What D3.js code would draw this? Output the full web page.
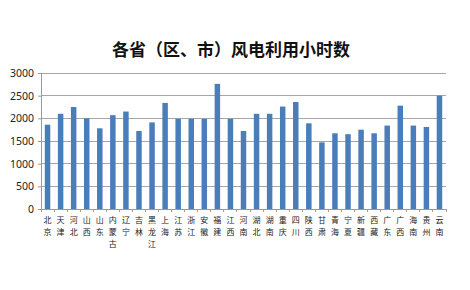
<!DOCTYPE html>
<html><head><meta charset="utf-8">
<script src="https://cdn.jsdelivr.net/npm/d3@7"></script>
<style>body{margin:0;background:#fff}svg{display:block}</style>
</head><body>
<svg id="c" width="470" height="290"></svg>
<script>
const categories = ["北京","天津","河北","山西","山东","内蒙古","辽宁","吉林","黑龙江","上海","江苏","浙江","安徽","福建","江西","河南","湖北","湖南","重庆","四川","陕西","甘肃","青海","宁夏","新疆","西藏","广东","广西","海南","贵州","云南"];
const hours = [1860,2100,2250,2000,1780,2070,2150,1720,1910,2340,1990,1990,1990,2760,1990,1720,2100,2100,2260,2360,1890,1470,1670,1650,1750,1670,1840,2280,1840,1810,2500];
const yTicks = [0,500,1000,1500,2000,2500,3000];
const title = "各省（区、市）风电利用小时数";

const svg = d3.select("#c");
const m = {l:41, r:24, t:73, b:81};
const W = 470, H = 290;
const x = d3.scaleBand().domain(categories).range([m.l, W - m.r]).paddingInner(0.58).paddingOuter(0.29);
const y = d3.scaleLinear().domain([0,3000]).range([H - m.b, m.t]);

svg.append("text").attr("x", 231).attr("y", 56).attr("text-anchor","middle")
  .attr("font-family","'Noto Sans CJK SC', sans-serif").attr("font-size",17).attr("font-weight",600)
  .attr("fill","#111").text(title);

// grid
svg.append("g").selectAll("line").data(yTicks.filter(d=>d>0)).join("line")
  .attr("x1", m.l).attr("x2", W - m.r).attr("y1", d=>y(d)).attr("y2", d=>y(d))
  .attr("stroke","#a6a6a6").attr("stroke-width",1).attr("shape-rendering","crispEdges");

// y axis
const ya = svg.append("g").attr("transform",`translate(${m.l},0)`)
  .call(d3.axisLeft(y).tickValues(yTicks).tickFormat(d3.format("d")).tickSize(3).tickPadding(4));
ya.select(".domain").attr("stroke","#999");
ya.selectAll(".tick line").attr("stroke","#999");
ya.selectAll("text").attr("font-family","'Noto Sans', sans-serif").attr("font-size",10.5).attr("fill","#222");

// bars
svg.append("g").selectAll("rect").data(hours).join("rect")
  .attr("x",(d,i)=>x(categories[i])).attr("width",x.bandwidth())
  .attr("y",d=>y(d)).attr("height",d=>y(0)-y(d)).attr("fill","#4a7ebb");

// x axis
const step = x.step();
const xa = svg.append("g").attr("transform",`translate(0,${y(0)})`);
xa.append("line").attr("x1",m.l).attr("x2",W-m.r).attr("stroke","#999").attr("shape-rendering","crispEdges");
xa.selectAll("line.t").data(d3.range(categories.length+1)).join("line").attr("class","t")
  .attr("x1",i=>m.l + i*step).attr("x2",i=>m.l + i*step).attr("y1",0).attr("y2",3)
  .attr("stroke","#b59a7a").attr("shape-rendering","crispEdges");
const fs = 8;
const chars = [];
categories.forEach(d => Array.from(d).forEach((c,j) => chars.push({cat:d, c, j})));
xa.selectAll("text").data(chars).join("text")
  .attr("text-anchor","middle")
  .attr("font-family","'Noto Sans CJK SC', sans-serif").attr("font-size",fs).attr("fill","#222")
  .attr("x",d=>x(d.cat)+x.bandwidth()/2).attr("y",d=>14 + d.j*11.8)
  .text(d=>d.c);
</script>
</body></html>
